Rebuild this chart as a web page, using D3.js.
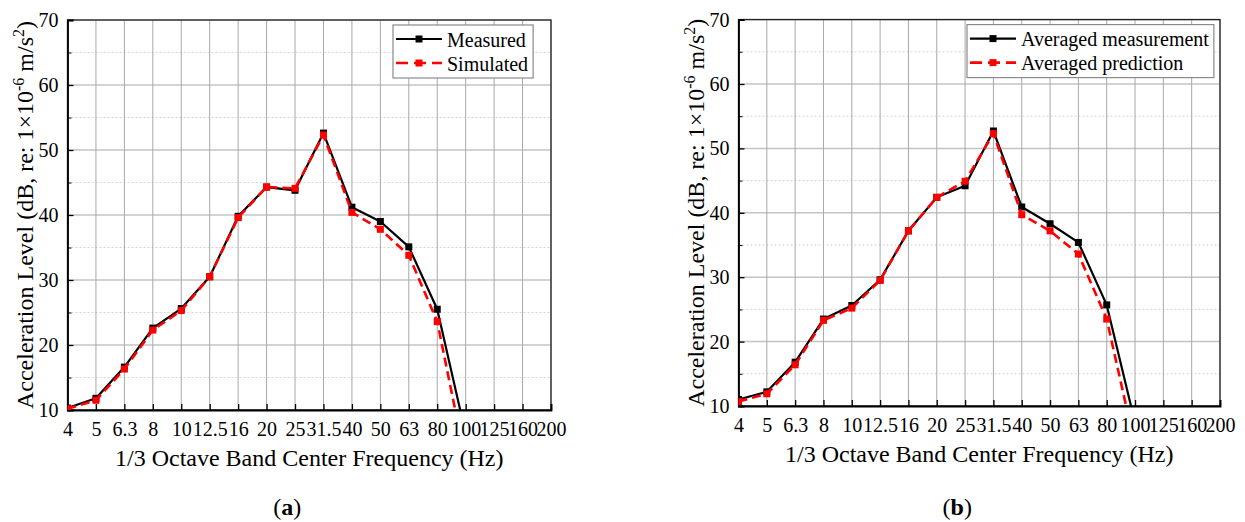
<!DOCTYPE html>
<html>
<head>
<meta charset="utf-8">
<script src="https://cdn.jsdelivr.net/npm/d3@7"></script>
<style>
  html, body { margin: 0; padding: 0; background: #ffffff; }
  svg { display: block; }
</style>
</head>
<body>
<svg id="chart" width="1245" height="522" font-family="Liberation Serif, Times New Roman, serif"></svg>
<script>
const bands = ['4', '5', '6.3', '8', '10', '12.5', '16', '20', '25', '31.5', '40', '50', '63', '80', '100', '125', '160', '200'];
const yTicks = [10, 20, 30, 40, 50, 60, 70];
const yMinorTicks = [15, 25, 35, 45, 55, 65];

// panel (a)
const measuredA = [10.3, 11.8, 16.6, 22.6, 25.6, 30.5, 39.8, 44.3, 43.8, 52.6, 41.2, 39.0, 35.1, 25.5, 6.3];
const simulatedA = [10.2, 11.5, 16.3, 22.3, 25.3, 30.5, 39.6, 44.3, 44.1, 52.3, 40.4, 37.8, 33.8, 23.6, 2.1];
// panel (b)
const measuredB = [11.0, 12.2, 16.8, 23.5, 25.6, 29.6, 37.2, 42.4, 44.2, 52.7, 40.9, 38.3, 35.4, 25.7, 7.4];
const predictedB = [10.7, 11.9, 16.4, 23.3, 25.2, 29.5, 37.2, 42.4, 44.9, 52.3, 39.7, 37.2, 33.6, 23.5, 3.8];

const FONT = 'Liberation Serif, Times New Roman, serif';
const H = 522;

const panels = [{
  label: 'a',
  area: { left: 67.5, right: 551, top: 20, bottom: 410 },
  legendX: 393,
  series: [
    { name: 'Measured', values: measuredA, color: '#000000', dash: null },
    { name: 'Simulated', values: simulatedA, color: '#ff0000', dash: '9,5' }
  ]
}, {
  label: 'b',
  area: { left: 738.5, right: 1220, top: 19.6, bottom: 406 },
  legendX: 967,
  series: [
    { name: 'Averaged measurement', values: measuredB, color: '#000000', dash: null },
    { name: 'Averaged prediction', values: predictedB, color: '#ff0000', dash: '9,5' }
  ]
}];

const svg = d3.select('#chart');
svg.append('rect')
  .attr('width', 1245)
  .attr('height', H)
  .attr('fill', '#ffffff');

const genX = (area) => d3.scalePoint()
  .domain(bands)
  .range([area.left, area.right]);

const genY = (area) => d3.scaleLinear()
  .domain([10, 70])
  .range([area.bottom, area.top]);

const styleAxis = a => a
  .attr('font-family', FONT)
  .attr('font-size', 20)
  .call(s => s.select('.domain').attr('stroke', '#000').attr('stroke-width', 1.8))
  .call(s => s.selectAll('.tick line').attr('stroke', '#000').attr('stroke-width', 1.3))
  .call(s => s.selectAll('text').attr('fill', '#000'));

const drawPanel = (panel, idx) => {
  const area = panel.area;
  const w = area.right - area.left;
  const h = area.bottom - area.top;
  const x = genX(area);
  const y = genY(area);
  const g = svg.append('g');

  const clipId = `clip-${idx}`;
  svg.append('defs').append('clipPath')
    .attr('id', clipId)
    .append('rect')
    .attr('x', area.left)
    .attr('y', area.top)
    .attr('width', w)
    .attr('height', h);

  // grid
  g.append('g')
    .selectAll('line')
    .data(yMinorTicks)
    .join('line')
    .attr('x1', area.left).attr('x2', area.right)
    .attr('y1', d => y(d)).attr('y2', d => y(d))
    .attr('stroke', '#d4d4d4')
    .attr('stroke-width', 1)
    .attr('stroke-dasharray', '2,2');
  g.append('g')
    .selectAll('line')
    .data(yTicks)
    .join('line')
    .attr('x1', area.left).attr('x2', area.right)
    .attr('y1', d => y(d)).attr('y2', d => y(d))
    .attr('stroke', '#c4c4c4')
    .attr('stroke-width', 1.5);
  g.append('g')
    .selectAll('line')
    .data(bands)
    .join('line')
    .attr('x1', d => x(d)).attr('x2', d => x(d))
    .attr('y1', area.top).attr('y2', area.bottom)
    .attr('stroke', '#a8a8a8')
    .attr('stroke-width', 1);

  // frame
  g.append('rect')
    .attr('x', area.left)
    .attr('y', area.top)
    .attr('width', w)
    .attr('height', h)
    .attr('fill', 'none')
    .attr('stroke', '#222222')
    .attr('stroke-width', 1.3);

  // axes
  g.append('g')
    .attr('transform', `translate(0,${area.bottom})`)
    .call(d3.axisBottom(x).tickSize(-6).tickPadding(12))
    .call(styleAxis);
  g.append('g')
    .attr('transform', `translate(${area.left},0)`)
    .call(d3.axisLeft(y).tickValues(yMinorTicks).tickSize(-4).tickFormat(''))
    .call(a => a.select('.domain').remove())
    .call(a => a.selectAll('.tick line').attr('stroke', '#000').attr('stroke-width', 1));
  g.append('g')
    .attr('transform', `translate(${area.left},0)`)
    .call(d3.axisLeft(y).tickValues(yTicks).tickSize(-6).tickPadding(9))
    .call(styleAxis);

  // series
  const plot = g.append('g').attr('clip-path', `url(#${clipId})`);
  for (const s of panel.series) {
    const pts = s.values.map((v, i) => ({ x: x(bands[i]), y: y(v) }));
    plot.append('path')
      .datum(pts)
      .attr('fill', 'none')
      .attr('stroke', s.color)
      .attr('stroke-width', s.dash ? 2.6 : 2.2)
      .attr('stroke-dasharray', s.dash)
      .attr('stroke-linejoin', 'round')
      .attr('d', d3.line().x(d => d.x).y(d => d.y));
    plot.append('g')
      .selectAll('rect')
      .data(pts)
      .join('rect')
      .attr('x', d => d.x - 3.5)
      .attr('y', d => d.y - 3.5)
      .attr('width', 7)
      .attr('height', 7)
      .attr('fill', s.color);
  }

  // legend
  const lg = g.append('g').attr('font-family', FONT);
  const box = lg.append('rect')
    .attr('x', panel.legendX)
    .attr('y', area.top + 5)
    .attr('height', 53)
    .attr('fill', '#ffffff')
    .attr('stroke', '#8a8a8a')
    .attr('stroke-width', 1.2);
  let maxLen = 0;
  panel.series.forEach((s, i) => {
    const ly = area.top + 19 + i * 24;
    lg.append('line')
      .attr('x1', panel.legendX + 3)
      .attr('x2', panel.legendX + 49)
      .attr('y1', ly).attr('y2', ly)
      .attr('stroke', s.color)
      .attr('stroke-width', s.dash ? 2.6 : 2.2)
      .attr('stroke-dasharray', s.dash ? '12,6' : null);
    lg.append('rect')
      .attr('x', panel.legendX + 22.5)
      .attr('y', ly - 3.5)
      .attr('width', 7)
      .attr('height', 7)
      .attr('fill', s.color);
    const t = lg.append('text')
      .attr('x', panel.legendX + 54)
      .attr('y', ly + 7.5)
      .attr('font-size', 20)
      .attr('fill', '#000')
      .text(s.name);
    maxLen = Math.max(maxLen, t.node().getComputedTextLength());
  });
  box.attr('width', 54 + maxLen + 5);

  // axis titles
  g.append('text')
    .attr('x', (area.left + area.right) / 2)
    .attr('y', area.bottom + 56)
    .attr('text-anchor', 'middle')
    .attr('font-family', FONT)
    .attr('font-size', 24)
    .attr('fill', '#000')
    .text('1/3 Octave Band Center Frequency (Hz)');

  const yt = g.append('text')
    .attr('transform', `translate(${area.left - 35},${(area.top + area.bottom) / 2}) rotate(-90)`)
    .attr('text-anchor', 'middle')
    .attr('font-family', FONT)
    .attr('font-size', 24)
    .attr('fill', '#000');
  yt.append('tspan').text('Acceleration Level (dB, re: 1×10');
  yt.append('tspan').attr('dy', -9).attr('font-size', 16).text('-6');
  yt.append('tspan').attr('dy', 9).text(' m/s');
  yt.append('tspan').attr('dy', -9).attr('font-size', 16).text('2');
  yt.append('tspan').attr('dy', 9).text(')');

  // sub-figure label
  const cap = g.append('text')
    .attr('x', (area.left + area.right) / 2 - 22)
    .attr('y', H - 7)
    .attr('text-anchor', 'middle')
    .attr('font-family', FONT)
    .attr('font-size', 24)
    .attr('fill', '#000');
  cap.append('tspan').text('(');
  cap.append('tspan').attr('font-weight', 'bold').text(panel.label);
  cap.append('tspan').text(')');
};

panels.forEach(drawPanel);
</script>
</body>
</html>
